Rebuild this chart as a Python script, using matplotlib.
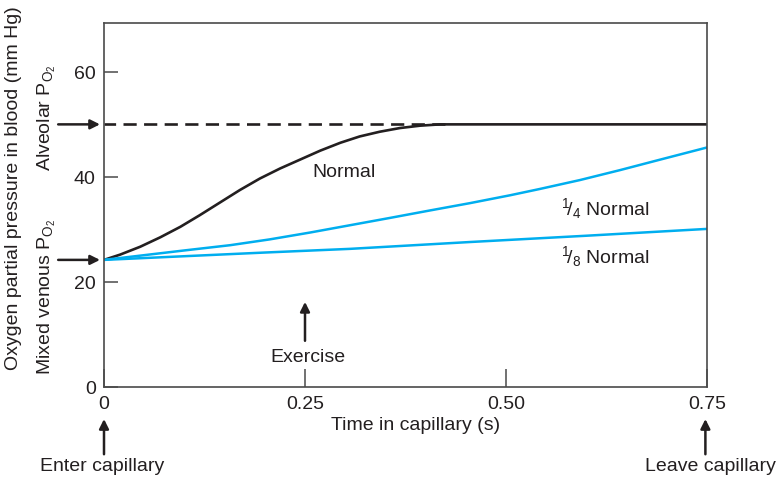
import matplotlib
matplotlib.use("Agg")
import matplotlib.pyplot as plt

plt.rcParams['font.family'] = ['Liberation Sans', 'DejaVu Sans']
plt.rcParams['mathtext.fontset'] = 'custom'
plt.rcParams['mathtext.rm'] = 'Liberation Sans'
plt.rcParams['mathtext.it'] = 'Liberation Sans'
plt.rcParams['mathtext.bf'] = 'Liberation Sans:bold'

# ---- data ----
normal_t = [0, 0.020, 0.045, 0.070, 0.095, 0.119, 0.144, 0.169, 0.194, 0.219, 0.244,
            0.269, 0.294, 0.318, 0.343, 0.368, 0.393, 0.418, 0.435, 0.75]
normal_p = [24.2, 25.2, 26.7, 28.5, 30.5, 32.7, 35.1, 37.5, 39.7, 41.6, 43.3,
            45.0, 46.5, 47.7, 48.6, 49.3, 49.75, 50.0, 50.0, 50.0]

quarter_t = [0, 0.05, 0.10, 0.157, 0.206, 0.256, 0.306, 0.356, 0.405, 0.455, 0.505,
             0.542, 0.592, 0.642, 0.692, 0.75]
quarter_p = [24.2, 25.1, 26.0, 27.0, 28.1, 29.4, 30.8, 32.2, 33.6, 35.0, 36.5,
             37.7, 39.4, 41.3, 43.3, 45.6]

eighth_t = [0, 0.10, 0.20, 0.306, 0.455, 0.60, 0.75]
eighth_p = [24.2, 24.9, 25.6, 26.3, 27.6, 28.8, 30.1]

alveolar_t = [0, 0.43]
alveolar_p = [50, 50]

x_ticks = [0, 0.25, 0.50, 0.75]
x_ticklabels = ['0', '0.25', '0.50', '0.75']
y_ticks = [0, 20, 40, 60]
y_ticklabels = ['0', '20', '40', '60']

BLACK = '#231f20'
BLUE = '#00aeef'
FS = 14

fig = plt.figure(figsize=(7.84, 4.81), dpi=100)
ax = fig.add_axes([104/784, 1-388/481, (707-104)/784, (388-24)/481])

ax.plot(alveolar_t, alveolar_p, color=BLACK, lw=1.9, linestyle=(0.6, (5.0, 2.8)))
ax.plot(normal_t, normal_p, color=BLACK, lw=1.9, solid_capstyle='butt', solid_joinstyle='round')
ax.plot(quarter_t, quarter_p, color=BLUE, lw=1.8, solid_joinstyle='round')
ax.plot(eighth_t, eighth_p, color=BLUE, lw=1.8, solid_joinstyle='round')

ax.set_xlim(0, 0.75)
ax.set_ylim(0, 69.3)
ax.set_xticks(x_ticks)
ax.set_xticklabels(x_ticklabels)
ax.set_yticks(y_ticks)
ax.set_yticklabels(y_ticklabels)
ax.tick_params(axis='y', direction='in', length=10, width=1.1, color='#4a4a4a',
               labelsize=FS, labelcolor=BLACK, pad=6)
ax.tick_params(axis='x', direction='in', length=13, width=1.1, color='#4a4a4a',
               labelsize=FS, labelcolor=BLACK, pad=6)
for s in ax.spines.values():
    s.set_color('#4a4a4a')
    s.set_linewidth(1.2)

ax.set_xlabel('Time in capillary (s)', fontsize=FS, color=BLACK)
ax.xaxis.set_label_coords(0.516, -0.08)

fig.text(14/784, 1-188/481, 'Oxygen partial pressure in blood (mm Hg)', rotation=90,
         ha='center', va='center', fontsize=FS, color=BLACK)

# curve labels
ax.text(0.259, 41.1, 'Normal', fontsize=FS, color=BLACK, ha='left', va='center')
ax.text(0.569, 34.1, r'$^{1}\!/_{4}$ Normal', fontsize=FS, color=BLACK, ha='left', va='center')
ax.text(0.569, 25.0, r'$^{1}\!/_{8}$ Normal', fontsize=FS, color=BLACK, ha='left', va='center')

# left-side annotations
ax.text(-0.071, 51.4, r'Alveolar P$_{\mathrm{O}_2}$', rotation=90, fontsize=FS, color=BLACK,
        ha='center', va='center', clip_on=False)
ax.text(-0.071, 17.3, r'Mixed venous P$_{\mathrm{O}_2}$', rotation=90, fontsize=FS, color=BLACK,
        ha='center', va='center', clip_on=False)

arrow_kw = dict(arrowstyle='-|>', color=BLACK, lw=1.8, mutation_scale=14,
                shrinkA=0, shrinkB=0)
ax.annotate('', xy=(-0.005, 50), xytext=(-0.057, 50), arrowprops=arrow_kw, annotation_clip=False)
ax.annotate('', xy=(-0.005, 24.2), xytext=(-0.057, 24.2), arrowprops=arrow_kw, annotation_clip=False)

# bottom annotations
ax.annotate('', xy=(0.25, 16.2), xytext=(0.25, 8.8), arrowprops=arrow_kw, annotation_clip=False)
ax.text(0.254, 5.9, 'Exercise', fontsize=FS, color=BLACK, ha='center', va='center')

ax.annotate('', xy=(0, -6.1), xytext=(0, -12.8), arrowprops=arrow_kw, annotation_clip=False)
ax.text(-0.002, -15.0, 'Enter capillary', fontsize=FS, color=BLACK, ha='center', va='center', clip_on=False)
ax.annotate('', xy=(0.748, -6.1), xytext=(0.748, -12.8), arrowprops=arrow_kw, annotation_clip=False)
ax.text(0.754, -15.0, 'Leave capillary', fontsize=FS, color=BLACK, ha='center', va='center', clip_on=False)

fig.savefig('out.png', dpi=100)
